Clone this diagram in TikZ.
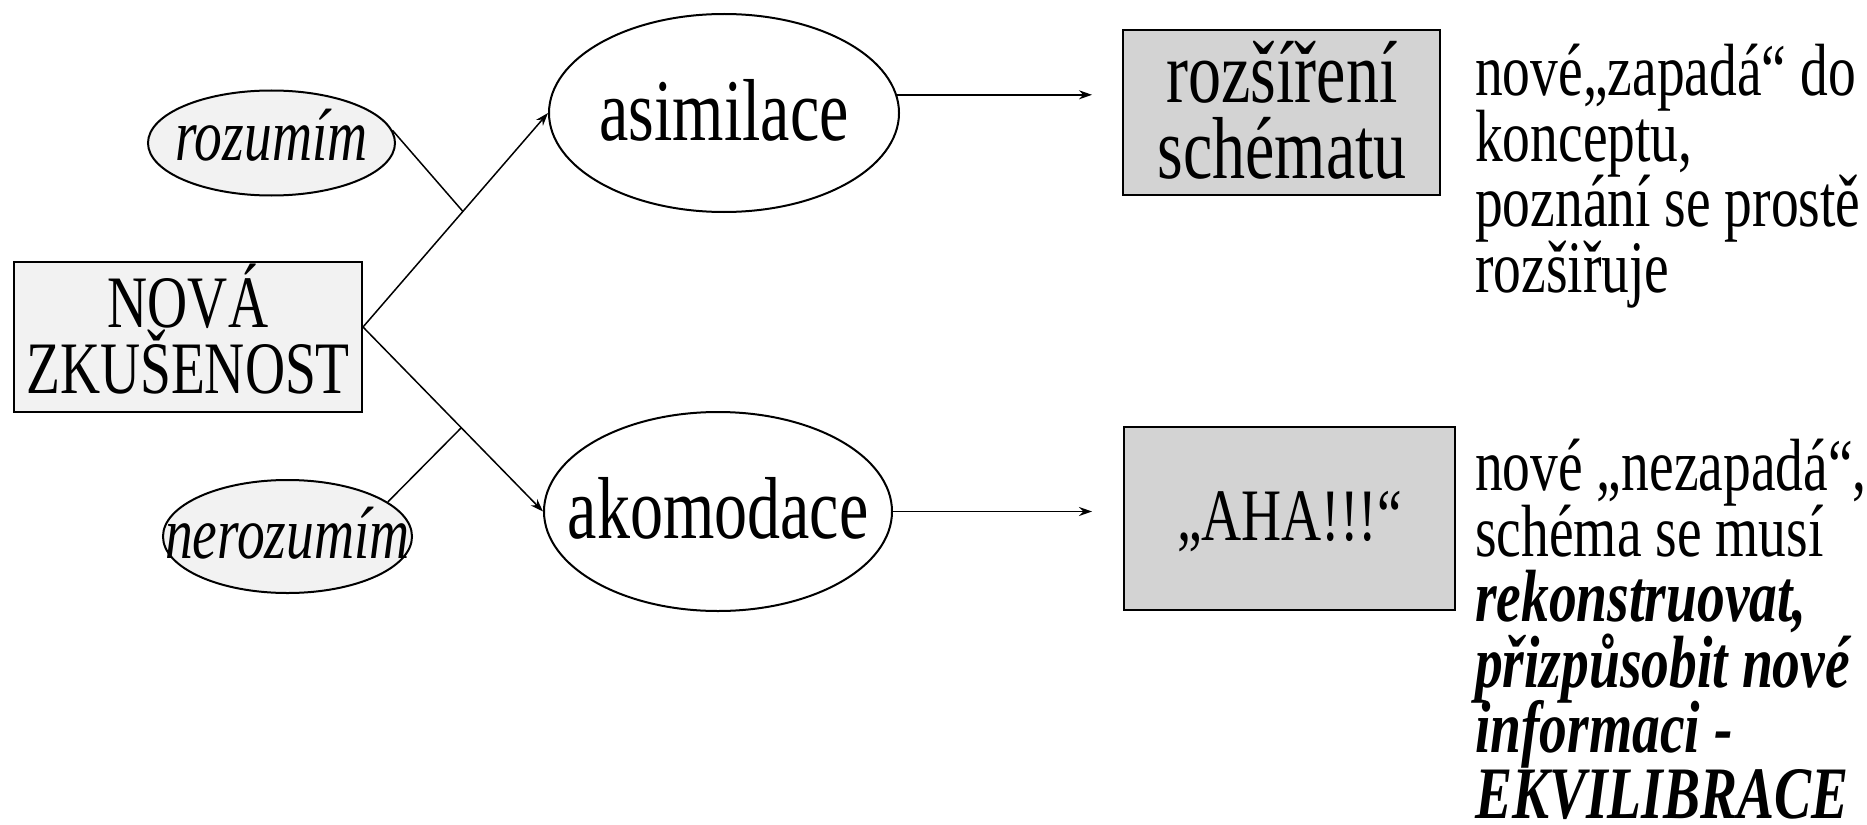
\documentclass[tikz,border=0pt]{standalone}
\usepackage{fontspec}
\setmainfont{Liberation Serif}[FakeStretch=0.75]
\usetikzlibrary{shapes.geometric,arrows.meta,calc}
\definecolor{lightfill}{HTML}{F2F2F2}
\definecolor{grayfill}{HTML}{D3D3D3}
\newcommand\mybigsz{\fontsize{88}{76}\selectfont\lineskiplimit -500pt\relax}
\newcommand\mymidsz{\fontsize{74}{65.5}\selectfont\lineskiplimit -500pt\relax}
\begin{document}
\begin{tikzpicture}[x=1pt,y=-1pt,
  bigfont/.style={font=\mybigsz},
  midfont/.style={font=\mymidsz},
  shapeline/.style={draw=black,line width=2pt},
  oval/.style={ellipse,shapeline,inner ysep=0pt,inner xsep=-40pt,text depth=0pt},
  boxnode/.style={rectangle,shapeline,inner sep=0pt},
  conn/.style={line width=1.5pt},
  arr/.style={conn,-{Stealth[length=13pt,width=9pt]}}
]
\useasboundingbox (0,0) rectangle (1867,824);

% boxes
\node[boxnode,fill=lightfill,minimum width=348pt,minimum height=150pt] (nova) at (188,337) {};
\node[midfont,align=center,anchor=base] (novat) at (188,393) {NOVÁ\\ZKUŠENOST};

\node[boxnode,fill=grayfill,minimum width=317pt,minimum height=165pt] (ros) at (1281.5,112.5) {};
\node[bigfont,align=center,anchor=base] (rost) at (1282,178) {rozšíření\\schématu};

\node[boxnode,fill=grayfill,minimum width=331pt,minimum height=183pt,midfont,text height=44pt,text depth=0pt] (aha) at (1289.5,518.5) {„AHA!!!“};

% ellipses
\node[oval,fill=white,minimum width=350pt,minimum height=198pt,bigfont,text height=55pt] (asim) at (724,113) {asimilace};
\node[oval,fill=white,minimum width=348pt,minimum height=199pt,bigfont,text height=54pt] (akom) at (718,511.5) {akomodace};
\node[oval,fill=lightfill,minimum width=247pt,minimum height=105pt,midfont,text height=34pt] (roz) at (271.5,143) {\itshape rozumím};
\node[oval,fill=lightfill,minimum width=249pt,minimum height=113pt,midfont,text height=43pt] (ner) at (287.5,536.5) {\itshape nerozumím};

% right texts
\node[midfont,align=left,anchor=base west,inner sep=0pt] (txt1) at (1475,292)
  {nové„zapadá“ do\\konceptu,\\poznání se prostě\\rozšiřuje};
\node[midfont,align=left,anchor=base west,inner sep=0pt] (txt2) at (1475,818)
  {nové „nezapadá“,\\schéma se musí\\\textbf{\textit{rekonstruovat,}}\\\textbf{\textit{přizpůsobit nové}}\\\textbf{\textit{informaci -}}\\\textbf{\textit{EKVILIBRACE}}};

% connectors
\coordinate (start) at ([yshift=10pt]nova.east);
\draw[arr] (start) -- (asim.west);
\draw[arr] (start) -- (akom.west);
\coordinate (m1) at ($(start)!0.54!(asim.west)$);
\coordinate (m2) at ($(start)!0.546!(akom.west)$);
\draw[conn] (roz.6) -- (m1);
\draw[conn] (ner.19) -- (m2);

\coordinate (e1) at (1092,95);
\coordinate (e2) at (1092,511);
\draw[arr] (asim.6) -- (asim.6 -| e1);
\draw[arr] (akom.east) -- (akom.east -| e2);
\end{tikzpicture}
\end{document}
